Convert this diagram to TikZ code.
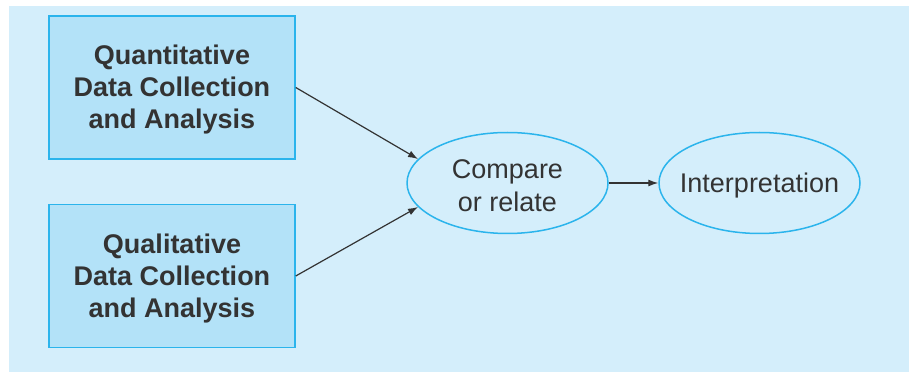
\documentclass[tikz,border=0pt]{standalone}
\usepackage{fontspec}
\setmainfont{Liberation Sans}
\usetikzlibrary{shapes.geometric,arrows.meta}
\definecolor{bgblue}{HTML}{D4EEFB}
\definecolor{boxfill}{HTML}{B3E2F8}
\definecolor{edgeblue}{HTML}{2BB4EC}
\definecolor{txt}{HTML}{333333}
\tikzset{
  x=1pt,y=1pt,
  databox/.style={draw=edgeblue, line width=1.5pt, fill=boxfill, minimum width=246pt, minimum height=143pt, inner sep=0pt},
  boxtext/.style={inner sep=0pt, yshift=-2.5pt, align=center, font=\fontsize{27}{32}\selectfont\bfseries, text=txt},
  oval/.style={ellipse, draw=edgeblue, line width=1.5pt, fill=bgblue, minimum width=201pt, minimum height=101pt, inner sep=0pt},
  ovaltext/.style={inner sep=0pt, yshift=-2.5pt, align=center, font=\fontsize{27}{33}\selectfont, text=txt},
  link/.style={draw=txt, line width=1.2pt, -{Latex[length=10pt,width=7pt]}}
}
\begin{document}
\begin{tikzpicture}
\useasboundingbox (0,0) rectangle (909,372);
\fill[white] (0,0) rectangle (909,372);
\fill[bgblue] (9,0) rectangle (909,366);
\node[databox] (quan) at (172,284.5) {};
\node[boxtext] (quantext) at (quan) {Quantitative\\Data Collection\\and Analysis};
\node[databox] (qual) at (172,96) {};
\node[boxtext] (qualtext) at (qual) {Qualitative\\Data Collection\\and Analysis};
\node[oval] (cmp) at (507.5,189) {};
\node[ovaltext] (cmptext) at (cmp) {Compare\\or relate};
\node[oval] (interp) at (759.5,189) {};
\node[ovaltext] (interptext) at (interp) {Interpretation};
\draw[link] (quan.east) -- (cmp.165);
\draw[link] (qual.east) -- (cmp.195);
\draw[link] (cmp.east) -- (interp.west);
\end{tikzpicture}
\end{document}
